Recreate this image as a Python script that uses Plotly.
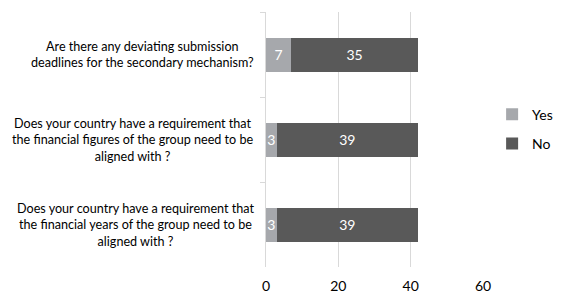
import plotly.graph_objects as go

categories = [
    "Are there any deviating submission<br>deadlines for the secondary mechanism?",
    "Does your country have a requirement that<br>the financial figures of the group need to be<br>aligned with ?",
    "Does your country have a requirement that<br>the financial years of the group need to be<br>aligned with ?",
]
yes_values = [7, 3, 3]
no_values = [35, 39, 39]
x_ticks = [0, 20, 40, 60]

FONT = "Lato"
YES_COLOR = "#A6A8AC"
NO_COLOR = "#595959"
GRID = "#D9D9D9"

fig = go.Figure()
fig.add_trace(go.Bar(
    y=categories, x=yes_values, name="Yes", orientation="h",
    marker=dict(color=YES_COLOR, line=dict(width=0)),
    text=yes_values, textposition="inside", insidetextanchor="middle",
    textangle=0, constraintext="none",
    textfont=dict(color="white", size=14, family=FONT),
    legendgroup="yes",
))
fig.add_trace(go.Bar(
    y=categories, x=no_values, name="No", orientation="h",
    marker=dict(color=NO_COLOR, line=dict(width=0)),
    text=no_values, textposition="inside", insidetextanchor="middle",
    textangle=0, constraintext="none",
    textfont=dict(color="white", size=14, family=FONT),
    legendgroup="no",
))

for c in categories:
    fig.add_annotation(
        x=0, xref="paper", y=c, yref="y", text=c, showarrow=False,
        xanchor="right", yanchor="middle", align="center", xshift=-10,
        font=dict(family=FONT, size=12.6, color="#000000"),
    )

# page body has an 8px default margin, so the figure is sized to fit the window
fig.update_layout(
    width=565, height=287,
    margin=dict(l=258, r=90, t=4, b=28, autoexpand=False),
    barmode="stack", bargap=0.6,
    plot_bgcolor="white", paper_bgcolor="white",
    font=dict(family=FONT, size=13, color="#000000"),
    showlegend=True,
    legend=dict(x=1.042, y=0.66, xanchor="left", yanchor="top",
                font=dict(family=FONT, size=14, color="#000000"),
                tracegroupgap=8, traceorder="grouped", itemwidth=30),
    xaxis=dict(range=[0, 60], tickvals=x_ticks, showgrid=True, gridcolor=GRID,
               gridwidth=1, zeroline=False, showline=False, ticks="",
               ticklabelstandoff=9,
               tickfont=dict(family=FONT, size=14, color="#000000")),
    yaxis=dict(autorange="reversed", showticklabels=False, showline=True,
               linecolor=GRID, linewidth=1, ticks="outside", tickson="boundaries",
               ticklen=5, tickcolor=GRID, showgrid=False),
)

fig.write_html("out.html")
